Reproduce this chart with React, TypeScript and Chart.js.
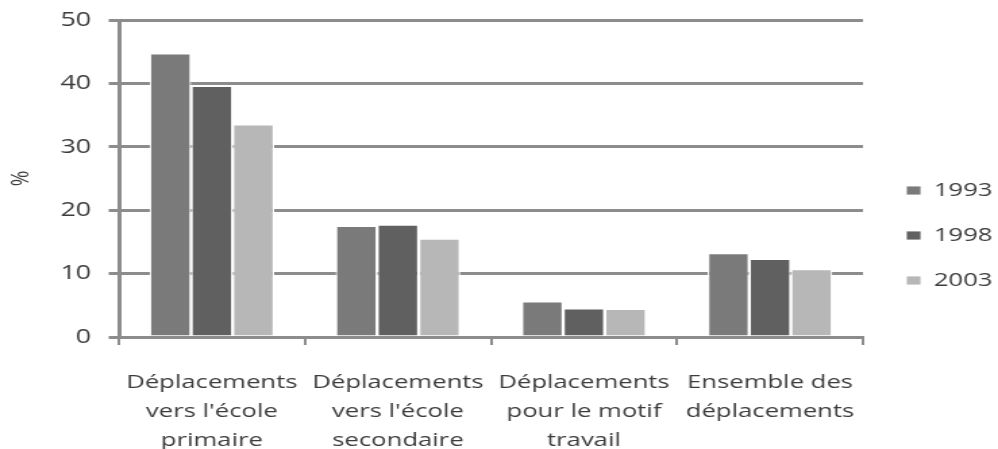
import React, { useEffect, useRef } from "react";
import { Chart, registerables } from "chart.js";

Chart.register(...registerables);

const categories: string[][] = [
  ["Déplacements", "vers l'école", "primaire"],
  ["Déplacements", "vers l'école", "secondaire"],
  ["Déplacements", "pour le motif", "travail"],
  ["Ensemble des", "déplacements"],
];
const seriesNames = ["1993", "1998", "2003"];
const values1993 = [44.7, 17.5, 5.6, 13.2];
const values1998 = [39.6, 17.7, 4.5, 12.3];
const values2003 = [33.5, 15.5, 4.4, 10.7];
const seriesColors = ["#7a7a7a", "#606060", "#b7b7b7"];
const yTicksMin = 0;
const yTicksMax = 50;
const yTicksStep = 10;
const yTitle = "%";

// the reference picture is horizontally stretched; draw at a narrower width and stretch with CSS
const OUT_W = 998;
const OUT_H = 449;
const STRETCH = 1.35;
const W = Math.round(OUT_W / STRETCH);
const H = OUT_H;

const FONT = "'Open Sans', 'Liberation Sans', sans-serif";
const TEXT = "#3c3c3c";
const GRID = "#8c8c8c";

const legendPlace = {
  id: "legendPlace",
  afterLayout(chart: any) {
    if (chart.legend) {
      chart.legend.left = 645;
      chart.legend.top = 155;
    }
  },
};

export default function App() {
  const ref = useRef<HTMLCanvasElement | null>(null);
  useEffect(() => {
    if (!ref.current) return;
    const all = [values1993, values1998, values2003];
    const chart = new Chart(ref.current, {
      type: "bar",
      data: {
        labels: categories,
        datasets: all.map((vals, i) => ({
          label: seriesNames[i],
          data: vals,
          backgroundColor: seriesColors[i],
          borderColor: "#ffffff",
          borderWidth: { top: 1, left: 1.2, right: 1.2, bottom: 0 },
          borderSkipped: false,
          categoryPercentage: 0.67,
          barPercentage: 1.0,
        })),
      },
      options: {
        animation: false,
        responsive: false,
        devicePixelRatio: 1,
        layout: { padding: { top: 20, right: 0, bottom: 0, left: 0 } },
        plugins: {
          tooltip: { enabled: false },
          legend: {
            position: "right",
            align: "start",
            maxWidth: W - 635.5,
            labels: {
              boxWidth: 11,
              boxHeight: 9,
              padding: 26,
              color: TEXT,
              font: { family: FONT, size: 19 },
            },
          },
        },
        scales: {
          x: {
            offset: true,
            afterFit: (s: any) => {
              s.height = H - 337;
            },
            grid: {
              display: true,
              offset: true,
              drawOnChartArea: false,
              drawTicks: true,
              tickLength: 8,
              color: GRID,
              lineWidth: 2,
            },
            border: { display: true, color: GRID, width: 3 },
            ticks: {
              color: TEXT,
              padding: 23.5,
              maxRotation: 0,
              autoSkip: false,
              font: { family: FONT, size: 19, lineHeight: 29 / 19 },
            },
          },
          y: {
            min: yTicksMin,
            max: yTicksMax,
            afterFit: (s: any) => {
              s.width = 88;
              s.paddingTop = 0;
              s.paddingBottom = 0;
            },
            grid: {
              color: GRID,
              lineWidth: 3,
              tickLength: 7.5,
              drawTicks: true,
            },
            border: { display: true, color: GRID, width: 3 },
            ticks: {
              stepSize: yTicksStep,
              color: TEXT,
              padding: 13,
              font: { family: FONT, size: 20 },
            },
            title: {
              display: true,
              text: yTitle,
              color: TEXT,
              padding: { top: 4, bottom: 0 },
              font: { family: FONT, size: 19 },
            },
          },
        },
      },
      plugins: [legendPlace],
    });
    return () => chart.destroy();
  }, []);
  return (
    <canvas
      ref={ref}
      width={W}
      height={H}
      style={{
        position: "absolute",
        left: 0,
        top: 0,
        width: OUT_W + "px",
        height: OUT_H + "px",
        display: "block",
      }}
    />
  );
}
